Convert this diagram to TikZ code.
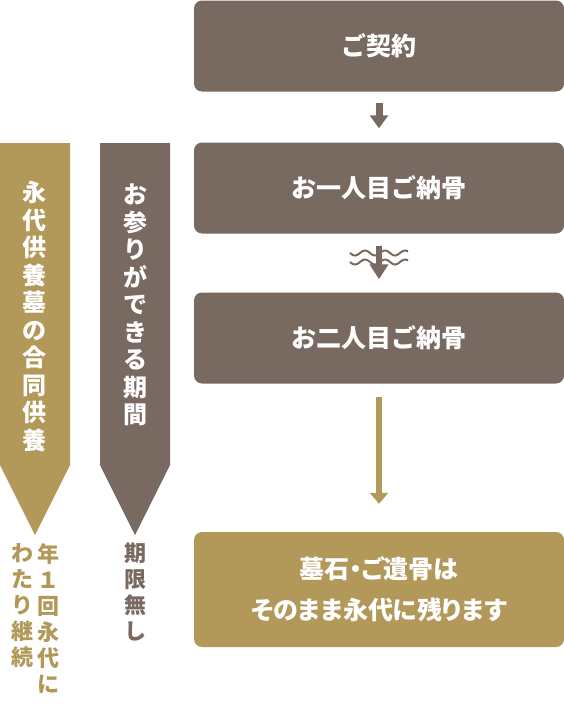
\documentclass[tikz,border=0pt]{standalone}
\usepackage{fontspec}
\newfontfamily\jpfont{Noto Sans CJK JP}
\newfontfamily\jpprop{Noto Sans CJK JP}[RawFeature=+palt]
\usetikzlibrary{arrows.meta,calc}
\definecolor{umber}{HTML}{796A61}
\definecolor{ochre}{HTML}{B2995A}

\begin{document}
\begin{tikzpicture}[x=1pt,y=-1pt,
    stepbox/.style={fill=umber,rounded corners=8pt,minimum width=370pt,minimum height=91pt,
      inner sep=0pt,align=center,text=white,font=\jpfont\bfseries\fontsize{25}{41}\selectfont},
    bannertext/.style={inner sep=0pt,align=center,text=white,font=\jpfont\bfseries\fontsize{24}{27.5}\selectfont},
    sidetext/.style={inner sep=0pt,align=center,anchor=north,font=\jpfont\bfseries\fontsize{22}{26}\selectfont},
    flow/.style={umber,line width=7pt,-{Triangle[width=18pt,length=13pt]}}]
  \useasboundingbox (0,0) rectangle (564,720);
  % flow boxes
  \node[stepbox] (contract) at (379,46) {ご契約};
  \node[stepbox] (first) at (379,188) {お一人目ご納骨};
  \node[stepbox] (second) at (379,338) {お二人目ご納骨};
  \node[stepbox,fill=ochre,minimum height=115pt,font=\jpprop\bfseries\fontsize{25}{41}\selectfont] (remain) at (379,589.5) {墓石・ご遺骨は\\そのまま永代に残ります};
  % arrows
  \draw[flow] ([yshift=-11pt]contract.south) -- ([yshift=14pt]first.north);
  \draw[flow,line width=6pt,-{Triangle[width=18pt,length=15pt]}] ([yshift=-12pt]first.south) -- ([yshift=13pt]second.north);
  \foreach \wy in {253,262}{
    \draw[umber,line width=2pt] plot[domain=350:408,samples=60,smooth] (\x,{\wy+2.5*sin((\x-350)*18)});}
  \draw[flow,ochre,line width=6pt,-{Triangle[width=18pt,length=11pt]}] ([yshift=-13pt]second.south) -- ([yshift=28pt]remain.north);
  % side banners
  \fill[ochre] (0,143) -- (70,143) -- (70,465) -- (35,535) -- (0,465) -- cycle;
  \fill[umber] (100,143) -- (170,143) -- (170,465) -- (135,535) -- (100,465) -- cycle;
  \node[bannertext] (memorial) at (35,316.5) {永\\代\\供\\養\\墓\\の\\合\\同\\供\\養};
  \node[bannertext] (visit) at (135,305) {お\\参\\り\\が\\で\\き\\る\\期\\間};
  \node[sidetext,text=ochre] (yearly) at (48,543) {年\\１\\回\\永\\代\\に};
  \node[sidetext,text=ochre] (ongoing) at (22,543) {わ\\た\\り\\継\\続};
  \node[sidetext,text=umber] (nolimit) at (135,543) {期\\限\\無\\し};
\end{tikzpicture}
\end{document}
